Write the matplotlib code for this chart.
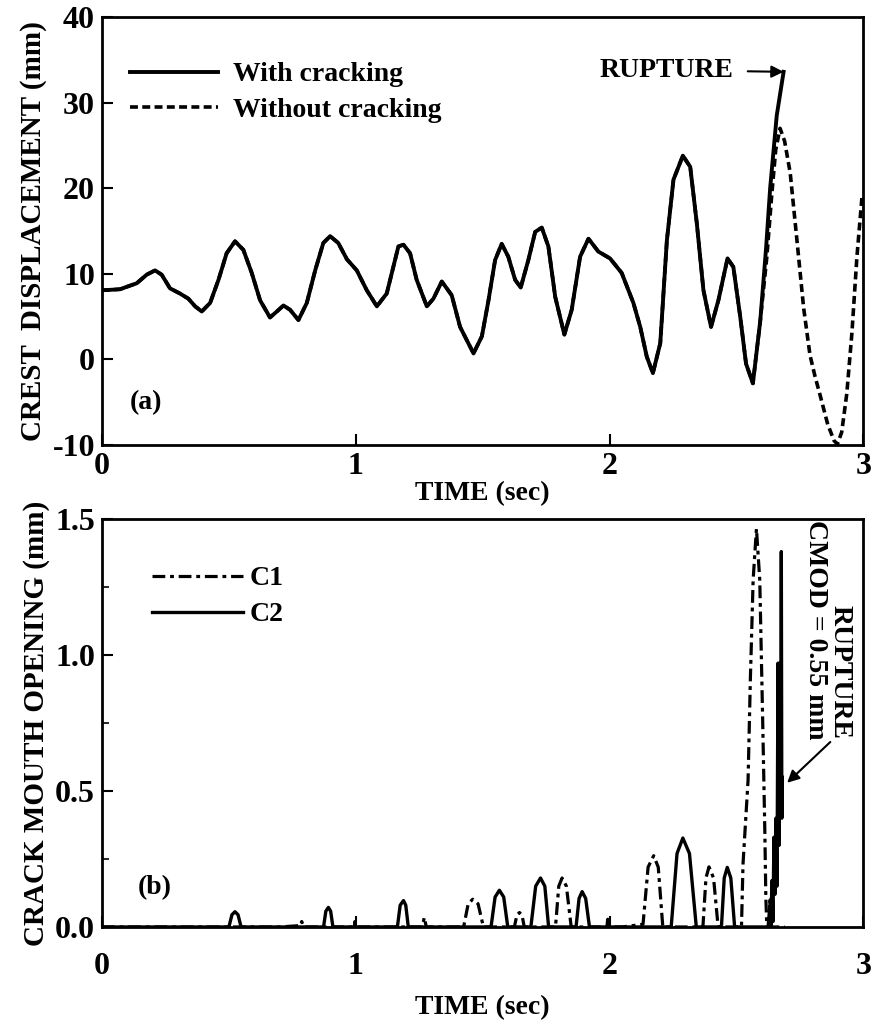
import matplotlib
matplotlib.use("Agg")
import matplotlib.pyplot as plt
from matplotlib.ticker import MultipleLocator

plt.rcParams["font.family"] = ["Liberation Serif", "DejaVu Serif"]
plt.rcParams["font.weight"] = "bold"
plt.rcParams["axes.labelweight"] = "bold"
plt.rcParams["axes.unicode_minus"] = False

# (a) crest displacement, mm
t_with = [0.0, 0.018, 0.071, 0.137, 0.176, 0.209, 0.235, 0.268, 0.307, 0.34,
          0.367, 0.393, 0.426, 0.459, 0.491, 0.524, 0.557, 0.59, 0.623, 0.662,
          0.689, 0.715, 0.741, 0.774, 0.807, 0.84, 0.872, 0.899, 0.931, 0.965,
          1.004, 1.043, 1.083, 1.122, 1.168, 1.188, 1.214, 1.24, 1.28, 1.306,
          1.339, 1.378, 1.411, 1.464, 1.497, 1.523, 1.549, 1.575, 1.601, 1.628,
          1.65, 1.68, 1.707, 1.733, 1.759, 1.786, 1.822, 1.851, 1.884, 1.917,
          1.956, 2.002, 2.048, 2.094, 2.121, 2.147, 2.171, 2.2, 2.226, 2.252,
          2.289, 2.318, 2.344, 2.37, 2.4, 2.429, 2.465, 2.488, 2.515, 2.538,
          2.565, 2.594, 2.617, 2.633, 2.659, 2.686]
d_with = [8.1, 8.1, 8.2, 8.9, 9.9, 10.4, 9.9, 8.3, 7.7, 7.1,
          6.2, 5.6, 6.6, 9.3, 12.4, 13.8, 12.8, 10.1, 6.9, 4.9,
          5.6, 6.3, 5.8, 4.6, 6.6, 10.4, 13.6, 14.4, 13.6, 11.7,
          10.4, 8.1, 6.2, 7.7, 13.2, 13.4, 12.4, 9.3, 6.2, 7.1,
          9.1, 7.5, 3.8, 0.7, 2.7, 6.9, 11.6, 13.5, 12.0, 9.3,
          8.4, 11.6, 14.9, 15.4, 13.2, 7.3, 2.9, 5.8, 12.0, 14.1,
          12.6, 11.8, 10.1, 6.6, 3.8, 0.3, -1.6, 1.9, 13.9, 21.0,
          23.8, 22.5, 15.9, 8.1, 3.8, 6.9, 11.8, 10.8, 5.0, -0.5,
          -2.8, 4.5, 13.0, 20.0, 28.5, 33.6]

t_without = t_with[:-4] + [2.62, 2.64, 2.655, 2.672, 2.69, 2.712, 2.74,
                           2.765, 2.79, 2.81, 2.83, 2.86, 2.885, 2.898,
                           2.915, 2.935, 2.955, 2.975, 2.995]
d_without = d_with[:-4] + [12.0, 19.5, 24.5, 27.0, 25.5, 21.8, 13.5,
                           6.0, 0.5, -2.0, -4.2, -7.6, -9.5, -9.9,
                           -8.5, -4.0, 3.0, 12.0, 19.0]

# (b) crack mouth opening, mm
t_c1 = [0.0, 0.70, 0.78, 0.787, 0.795, 1.262, 1.27, 1.278,
        1.425, 1.443, 1.461, 1.482, 1.503,
        1.625, 1.635, 1.645, 1.655, 1.664,
        1.787, 1.800, 1.813, 1.830, 1.849,
        2.05, 2.10, 2.132, 2.152, 2.174, 2.192, 2.21,
        2.368, 2.380, 2.392, 2.410, 2.428,
        2.52, 2.526, 2.546, 2.555, 2.566, 2.579, 2.592, 2.603, 2.612, 2.616, 2.62,
        2.627, 2.633, 2.638, 2.69]
v_c1 = [0.0, 0.0, 0.005, 0.02, 0.0, 0.0, 0.035, 0.0,
        0.0, 0.085, 0.102, 0.085, 0.0,
        0.0, 0.044, 0.053, 0.044, 0.0,
        0.0, 0.15, 0.18, 0.15, 0.0,
        0.0, 0.006, 0.01, 0.22, 0.262, 0.22, 0.0,
        0.0, 0.18, 0.221, 0.18, 0.0,
        0.0, 0.23, 0.54, 0.91, 1.277, 1.464, 1.277, 0.785, 0.354, 0.108, 0.0,
        0.0, 0.1, 0.0, 0.0]

t_c2 = [0.0, 0.500, 0.512, 0.524, 0.536, 0.548,
        0.873, 0.882, 0.892, 0.901, 0.910,
        0.995, 0.997, 0.999,
        1.164, 1.175, 1.188, 1.197, 1.207,
        1.533, 1.549, 1.566, 1.583, 1.599,
        1.690, 1.709, 1.728, 1.745, 1.760,
        1.868, 1.880, 1.892, 1.906, 1.921,
        1.990, 1.993, 1.996,
        2.243, 2.266, 2.289, 2.315, 2.342,
        2.441, 2.452, 2.464, 2.478, 2.493,
        2.625, 2.632, 2.636, 2.640, 2.644, 2.648, 2.652, 2.656, 2.660, 2.664,
        2.668, 2.672, 2.675, 2.677, 2.679, 2.681]
v_c2 = [0.0, 0.0, 0.045, 0.056, 0.045, 0.0,
        0.0, 0.058, 0.072, 0.058, 0.0,
        0.0, 0.02, 0.0,
        0.0, 0.08, 0.097, 0.08, 0.0,
        0.0, 0.11, 0.135, 0.11, 0.0,
        0.0, 0.15, 0.18, 0.15, 0.0,
        0.0, 0.105, 0.13, 0.105, 0.0,
        0.0, 0.028, 0.0,
        0.0, 0.27, 0.327, 0.27, 0.0,
        0.0, 0.18, 0.219, 0.18, 0.0,
        0.0, 0.08, 0.0, 0.17, 0.02, 0.33, 0.12, 0.40, 0.15, 0.97,
        0.30, 0.97, 0.50, 1.38, 0.40, 0.55]

fig = plt.figure(figsize=(8.75, 10.27), dpi=100)
ax1 = fig.add_axes([0.1166, 0.5667, 0.870, 0.4167])
ax2 = fig.add_axes([0.1166, 0.0974, 0.870, 0.3973])

fs = 20
lfs = 21
tfs = 23

ax1.plot(t_without, d_without, color="black", lw=2.6, ls=(0, (2.2, 1.2)),
         label="Without cracking", zorder=2)
ax1.plot(t_with, d_with, color="black", lw=2.8, label="With cracking", zorder=3,
         solid_joinstyle="round")
ax1.set_xlim(0, 3)
ax1.set_ylim(-10, 40)
ax1.set_xticks([0, 1, 2, 3])
ax1.set_yticks([-10, 0, 10, 20, 30, 40])
ax1.set_xlabel("TIME (sec)", fontsize=fs, labelpad=0)
ax1.set_ylabel("CREST  DISPLACEMENT (mm)", fontsize=lfs, labelpad=4)
ax1.text(0.037, 0.098, "(a)", transform=ax1.transAxes, fontsize=fs, va="center")
ax1.annotate("RUPTURE", xy=(2.686, 33.6), xytext=(2.49, 33.8),
             ha="right", va="center", fontsize=fs,
             arrowprops=dict(arrowstyle="-|>", color="black", lw=1.5,
                             mutation_scale=18, shrinkA=8, shrinkB=0))
h, l = ax1.get_legend_handles_labels()
ax1.legend(h[::-1], l[::-1], loc="upper left", bbox_to_anchor=(0.037, 0.895),
           frameon=False, fontsize=fs, handlelength=3.15, handletextpad=0.55,
           labelspacing=0.37, borderpad=0, borderaxespad=0)

ax2.plot(t_c1, v_c1, color="black", lw=2.3, ls=(0, (4, 1.5, 1.2, 1.5)), label="C1")
ax2.plot(t_c2, v_c2, color="black", lw=2.4, label="C2")
ax2.set_xlim(0, 3)
ax2.set_ylim(0, 1.5)
ax2.set_xticks([0, 1, 2, 3])
ax2.set_yticks([0.0, 0.5, 1.0, 1.5])
ax2.set_yticklabels(["0.0", "0.5", "1.0", "1.5"])
ax2.yaxis.set_minor_locator(MultipleLocator(0.25))
ax2.set_xlabel("TIME (sec)", fontsize=fs, labelpad=10)
ax2.set_ylabel("CRACK MOUTH OPENING (mm)", fontsize=lfs, labelpad=4)
ax2.text(0.047, 0.096, "(b)", transform=ax2.transAxes, fontsize=fs, va="center")
ax2.text(2.86, 0.69, "RUPTURE\nCMOD = 0.55 mm", rotation=270, ha="center",
         va="bottom", multialignment="right", fontsize=fs, linespacing=0.95)
ax2.annotate("", xy=(2.70, 0.53), xytext=(2.87, 0.68),
             arrowprops=dict(arrowstyle="-|>", color="black", lw=1.5,
                             mutation_scale=18, shrinkA=0, shrinkB=0))
ax2.legend(loc="upper left", bbox_to_anchor=(0.066, 0.885), frameon=False,
           fontsize=fs, handlelength=3.27, handletextpad=0.25, labelspacing=0.38,
           borderpad=0, borderaxespad=0)

for ax in (ax1, ax2):
    for s in ax.spines.values():
        s.set_linewidth(2.0)
    ax.tick_params(which="major", direction="in", length=8, width=1.5,
                   labelsize=tfs, pad=5)
    ax.tick_params(which="minor", direction="in", length=5, width=1.2)
    ax.tick_params(axis="x", which="both", top=False)
    ax.tick_params(axis="y", which="both", right=False)
ax2.tick_params(axis="x", pad=18)

fig.savefig("out.png", dpi=100)
